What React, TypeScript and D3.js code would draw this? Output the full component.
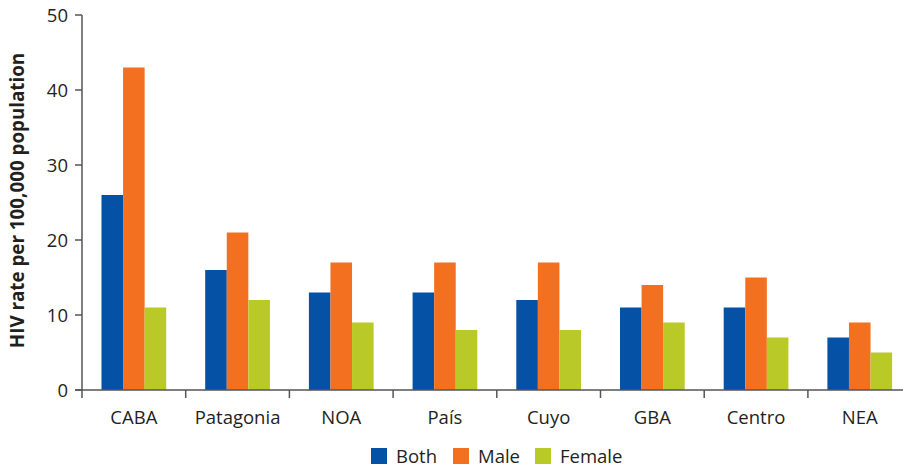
import React from "react";
import * as d3 from "d3";

const categories = ["CABA", "Patagonia", "NOA", "País", "Cuyo", "GBA", "Centro", "NEA"];
const seriesNames = ["Both", "Male", "Female"];
const both = [26, 16, 13, 13, 12, 11, 11, 7];
const male = [43, 21, 17, 17, 17, 14, 15, 9];
const female = [11, 12, 9, 8, 8, 9, 7, 5];
const yTicks = [0, 10, 20, 30, 40, 50];
const colors = ["#0451a5", "#f37021", "#b9c927"];

const W = 903, H = 470;
const x0 = 82, y0 = 390, yTop = 15;
const step = 103.7;
const font = "'Open Sans', 'DejaVu Sans', sans-serif";

export default function App() {
  const series = [both, male, female];
  const x = d3.scaleBand<string>().domain(categories).range([x0, x0 + step * categories.length]).paddingInner(0.376).paddingOuter(0.188);
  const xs = d3.scaleBand<string>().domain(seriesNames).range([0, x.bandwidth()]);
  const y = d3.scaleLinear().domain([0, 50]).range([y0, yTop]);
  const axisColor = "#555";
  const txt = "#231f20";
  return (
    <svg width={W} height={H} style={{ position: "absolute", left: 0, top: 0 }}>
      <rect width={W} height={H} fill="#fff" />
      {categories.map((c, i) =>
        series.map((s, j) => (
          <rect key={c + j} x={(x(c) as number) + (xs(seriesNames[j]) as number)} y={y(s[i])}
            width={xs.bandwidth()} height={y0 - y(s[i])} fill={colors[j]} />
        ))
      )}
      <line x1={x0} x2={x0} y1={yTop} y2={y0 + 8} stroke={axisColor} strokeWidth={1.5} />
      <line x1={x0 - 7} x2={W} y1={y0} y2={y0} stroke={axisColor} strokeWidth={1.5} />
      {yTicks.map(t => (
        <g key={t}>
          <line x1={x0 - 7} x2={x0} y1={y(t)} y2={y(t)} stroke={axisColor} strokeWidth={1.5} />
          <text x={x0 - 14} y={y(t)} dy="0.36em" textAnchor="end" fontFamily={font} fontSize={18.5} fill={txt}>{t}</text>
        </g>
      ))}
      {categories.map((c, i) => (
        <g key={c}>
          {i > 0 && <line x1={x0 + step * i} x2={x0 + step * i} y1={y0} y2={y0 + 8} stroke={axisColor} strokeWidth={1.5} />}
          <text x={(x(c) as number) + x.bandwidth() / 2} y={424} textAnchor="middle" fontFamily={font} fontSize={18.5} fill={txt}>{c}</text>
        </g>
      ))}
      <text transform={`translate(24, ${(y0 + yTop) / 2 - 2}) rotate(-90)`} textAnchor="middle" fontFamily={font} fontSize={18.8} fontWeight="bold" fill={txt}>HIV rate per 100,000 population</text>
      {seriesNames.map((n, j) => {
        const lx = [371, 453, 535][j];
        return (
          <g key={n}>
            <rect x={lx} y={448} width={16} height={16} fill={colors[j]} />
            <text x={lx + 25} y={463} fontFamily={font} fontSize={18.5} fill={txt}>{n}</text>
          </g>
        );
      })}
    </svg>
  );
}
